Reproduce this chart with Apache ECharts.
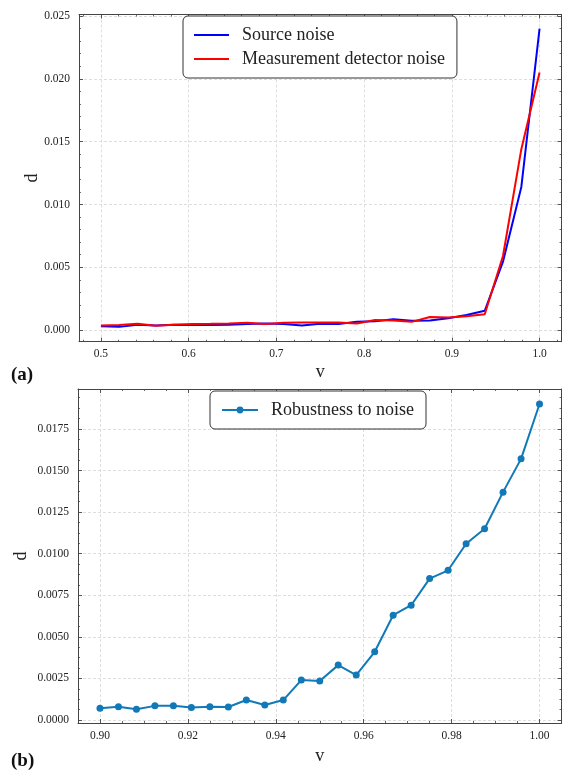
<!DOCTYPE html>
<html><head><meta charset="utf-8">
<script src="https://cdn.jsdelivr.net/npm/echarts@6/dist/echarts.min.js"></script>
<style>html,body{margin:0;padding:0;background:#fff}#c{width:563px;height:771px}</style>
</head><body><div id="c"></div>
<script>
// ---- data (panel a) ----
const vTop = [0.5, 0.5208, 0.5417, 0.5625, 0.5833, 0.6042, 0.625, 0.6458, 0.6667, 0.6875, 0.7083, 0.7292, 0.75,
  0.7708, 0.7917, 0.8125, 0.8333, 0.8542, 0.875, 0.8958, 0.9167, 0.9375, 0.9583, 0.9792, 1.0];
const sourceNoise = [0.0003, 0.00026, 0.00042, 0.00037, 0.00042, 0.0004, 0.0004, 0.00042, 0.00048, 0.00053, 0.00048, 0.00037, 0.0005,
  0.00048, 0.00066, 0.0007, 0.00087, 0.00074, 0.00077, 0.00095, 0.0012, 0.00154, 0.00545, 0.0114, 0.0240];
const detectorNoise = [0.00037, 0.0004, 0.0005, 0.00034, 0.00042, 0.00048, 0.0005, 0.00053, 0.00058, 0.00048, 0.00058, 0.0006, 0.0006,
  0.0006, 0.00053, 0.0008, 0.00077, 0.00066, 0.00105, 0.001, 0.0011, 0.00127, 0.0059, 0.0144, 0.0205];
// ---- data (panel b) ----
const vBottom = [0.9, 0.9042, 0.9083, 0.9125, 0.9167, 0.9208, 0.925, 0.9292, 0.9333, 0.9375, 0.9417, 0.9458, 0.95,
  0.9542, 0.9583, 0.9625, 0.9667, 0.9708, 0.975, 0.9792, 0.9833, 0.9875, 0.9917, 0.9958, 1.0];
const robustness = [0.0007, 0.0008, 0.00065, 0.00085, 0.00085, 0.00075, 0.0008, 0.00078, 0.0012, 0.0009, 0.0012, 0.0024, 0.00235,
  0.0033, 0.0027, 0.0041, 0.0063, 0.0069, 0.0085, 0.0090, 0.0106, 0.0115, 0.0137, 0.0157, 0.0190];
const seriesNames = ['Source noise', 'Measurement detector noise', 'Robustness to noise'];
const panelLabels = ['(a)', '(b)'];
const axisNames = {x: 'v', y: 'd'};

const FONT = '"Liberation Serif", "DejaVu Serif", serif';
const AX = '#444';
function pairs(xs, ys) { return xs.map((x, i) => [x, ys[i]]); }

function makeAxis(opt) {
  const mirror = !!opt.mirror;
  const a = {
    type: 'value', gridIndex: opt.grid, position: opt.position,
    min: opt.min, max: opt.max, minInterval: opt.step, maxInterval: opt.step, splitNumber: 5,
    axisLine: {show: true, onZero: false, lineStyle: {color: AX, width: 1}},
    axisTick: {show: true, inside: true, length: 4, lineStyle: {color: AX, width: 0.9}},
    minorTick: {show: true, splitNumber: opt.minor, length: 2, lineStyle: {color: AX, width: 0.8}},
    axisLabel: {show: !mirror, margin: opt.margin, fontFamily: FONT, fontSize: 11.5, color: '#222',
      showMinLabel: false, showMaxLabel: false, formatter: v => v.toFixed(opt.dec)},
    splitLine: {show: !mirror, lineStyle: {color: '#d6d6d6', type: [3, 2], width: 0.8}},
    z: mirror ? 3 : 2
  };
  if (!mirror && opt.name) {
    a.name = opt.name; a.nameLocation = 'middle'; a.nameGap = opt.nameGap; a.nameMoveOverlap = false;
    a.nameTextStyle = {fontFamily: FONT, fontSize: 18, color: '#222'};
  }
  return a;
}

const legendBase = {
  orient: 'vertical', padding: [10, 12, 10, 11], itemGap: 6,
  borderColor: '#333', borderWidth: 1, borderRadius: 5, backgroundColor: '#fff', selectedMode: false,
  textStyle: {fontFamily: FONT, fontSize: 18, lineHeight: 18, color: '#222', padding: [0, 0, 0, 8]}
};

const chart = echarts.init(document.getElementById('c'), null, {renderer: 'canvas'});
const option = {
  animation: false,
  backgroundColor: '#fff',
  grid: [
    {left: 79, right: 1.5, top: 14.5, height: 327.2, outerBoundsMode: 'none', containLabel: false},
    {left: 78, right: 1.5, top: 389, height: 334, outerBoundsMode: 'none', containLabel: false}
  ],
  xAxis: [
    makeAxis({grid: 0, position: 'bottom', min: 0.475, max: 1.025, step: 0.1, minor: 5, dec: 1, margin: 6, name: axisNames.x, nameGap: 22}),
    makeAxis({grid: 0, position: 'top', min: 0.475, max: 1.025, step: 0.1, minor: 5, dec: 1, mirror: true}),
    makeAxis({grid: 1, position: 'bottom', min: 0.895, max: 1.005, step: 0.02, minor: 4, dec: 2, margin: 7, name: axisNames.x, nameGap: 24}),
    makeAxis({grid: 1, position: 'top', min: 0.895, max: 1.005, step: 0.02, minor: 4, dec: 2, mirror: true})
  ],
  yAxis: [
    makeAxis({grid: 0, position: 'left', min: -0.00092, max: 0.02512, step: 0.005, minor: 5, dec: 3, margin: 9, name: axisNames.y, nameGap: 38}),
    makeAxis({grid: 0, position: 'right', min: -0.00092, max: 0.02512, step: 0.005, minor: 5, dec: 3, mirror: true}),
    makeAxis({grid: 1, position: 'left', min: -0.00018, max: 0.0199, step: 0.0025, minor: 4, dec: 4, margin: 9, name: axisNames.y, nameGap: 48}),
    makeAxis({grid: 1, position: 'right', min: -0.00018, max: 0.0199, step: 0.0025, minor: 4, dec: 4, mirror: true})
  ],
  legend: [
    Object.assign({}, legendBase, {
      data: [{name: seriesNames[0], icon: 'rect'}, {name: seriesNames[1], icon: 'rect'}],
      left: 183, top: 16, itemWidth: 35, itemHeight: 2.2}),
    Object.assign({}, legendBase, {
      data: [seriesNames[2]], left: 210, top: 391, itemWidth: 36, itemHeight: 8.5})
  ],
  series: [
    {name: seriesNames[0], type: 'line', xAxisIndex: 0, yAxisIndex: 0, data: pairs(vTop, sourceNoise),
      symbol: 'none', color: '#0000ff', itemStyle: {color: '#0000ff'}, lineStyle: {color: '#0000ff', width: 2}, z: 3},
    {name: seriesNames[1], type: 'line', xAxisIndex: 0, yAxisIndex: 0, data: pairs(vTop, detectorNoise),
      symbol: 'none', color: '#ff0000', itemStyle: {color: '#ff0000'}, lineStyle: {color: '#ff0000', width: 2}, z: 4},
    {name: seriesNames[2], type: 'line', xAxisIndex: 2, yAxisIndex: 2, data: pairs(vBottom, robustness),
      symbol: 'circle', symbolSize: 7, color: '#1279b8', itemStyle: {color: '#1279b8'},
      lineStyle: {color: '#1279b8', width: 2}, z: 3}
  ],
  graphic: [
    {type: 'text', left: 11, top: 366, style: {text: panelLabels[0], font: 'bold 19px ' + FONT, fill: '#111'}},
    {type: 'text', left: 11, top: 752, style: {text: panelLabels[1], font: 'bold 19px ' + FONT, fill: '#111'}}
  ]
};
chart.setOption(option);
</script>
</body></html>
